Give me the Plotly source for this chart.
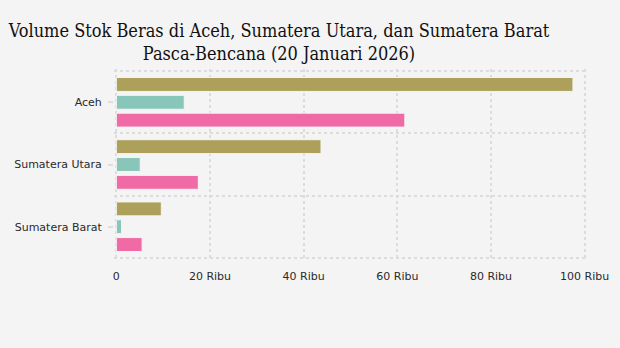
import plotly.graph_objects as go

# Rice stock volume (tons) per province after the disaster, 20 January 2026
regions = ["Aceh", "Sumatera Utara", "Sumatera Barat"]
series_names = ["Seri 1", "Seri 2", "Seri 3"]
series_values = [
    [97500, 43700, 9600],
    [14500, 5100, 1100],
    [61600, 17500, 5500],
]
series_colors = ["#ACA05A", "#87C6B9", "#F06AA5"]

x_tickvals = [0, 20000, 40000, 60000, 80000, 100000]
x_ticktext = ["0", "20 Ribu", "40 Ribu", "60 Ribu", "80 Ribu", "100 Ribu"]

positions = list(range(len(regions)))
boundaries = [p - 0.5 for p in positions] + [positions[-1] + 0.5]

# small padding so the edge grid lines are not clipped away
x_pad = 500
y_pad = 0.035

fig = go.Figure()
for name, vals, color in zip(series_names, series_values, series_colors):
    fig.add_trace(go.Bar(
        name=name,
        y=positions,
        x=vals,
        orientation="h",
        marker=dict(color=color, line=dict(color="#F4F4F4", width=1)),
    ))

fig.update_layout(
    width=620,
    height=348,
    paper_bgcolor="#F4F4F4",
    plot_bgcolor="#F4F4F4",
    barmode="group",
    bargap=0.14,
    bargroupgap=0.22,
    showlegend=False,
    margin=dict(l=114, r=33, t=69, b=88),
    title=dict(
        text="Volume Stok Beras di Aceh, Sumatera Utara, dan Sumatera Barat<br>Pasca-Bencana (20 Januari 2026)",
        font=dict(family="DejaVu Serif Condensed, Liberation Serif", size=18, color="#111111"),
        x=0.45,
        xanchor="center",
        xref="container",
        y=1 - 36.5 / 348,
        yanchor="middle",
        yref="container",
    ),
    font=dict(family="DejaVu Sans", size=11, color="#2a2a2a"),
)

fig.update_xaxes(
    range=[x_tickvals[0] - x_pad, x_tickvals[-1] + x_pad],
    tickmode="array",
    tickvals=x_tickvals,
    ticktext=x_ticktext,
    showgrid=True,
    gridcolor="#DCDCDC",
    gridwidth=2,
    griddash="dot",
    zeroline=False,
    ticks="",
    ticklabelstandoff=8,
    tickfont=dict(family="DejaVu Sans", size=11, color="#2a2a2a"),
)

fig.update_yaxes(
    range=[boundaries[-1] + y_pad, boundaries[0] - y_pad],
    tickmode="array",
    tickvals=positions,
    ticktext=regions,
    showgrid=False,
    zeroline=False,
    ticks="outside",
    ticklen=5,
    tickwidth=2,
    tickcolor="#DDDDDD",
    ticklabelstandoff=4,
    tickfont=dict(family="DejaVu Sans", size=11, color="#2a2a2a"),
    minor=dict(
        tickmode="array",
        tickvals=boundaries,
        showgrid=True,
        gridcolor="#DCDCDC",
        gridwidth=2,
        griddash="dot",
        ticks="",
    ),
)

fig.write_html("out.html")
